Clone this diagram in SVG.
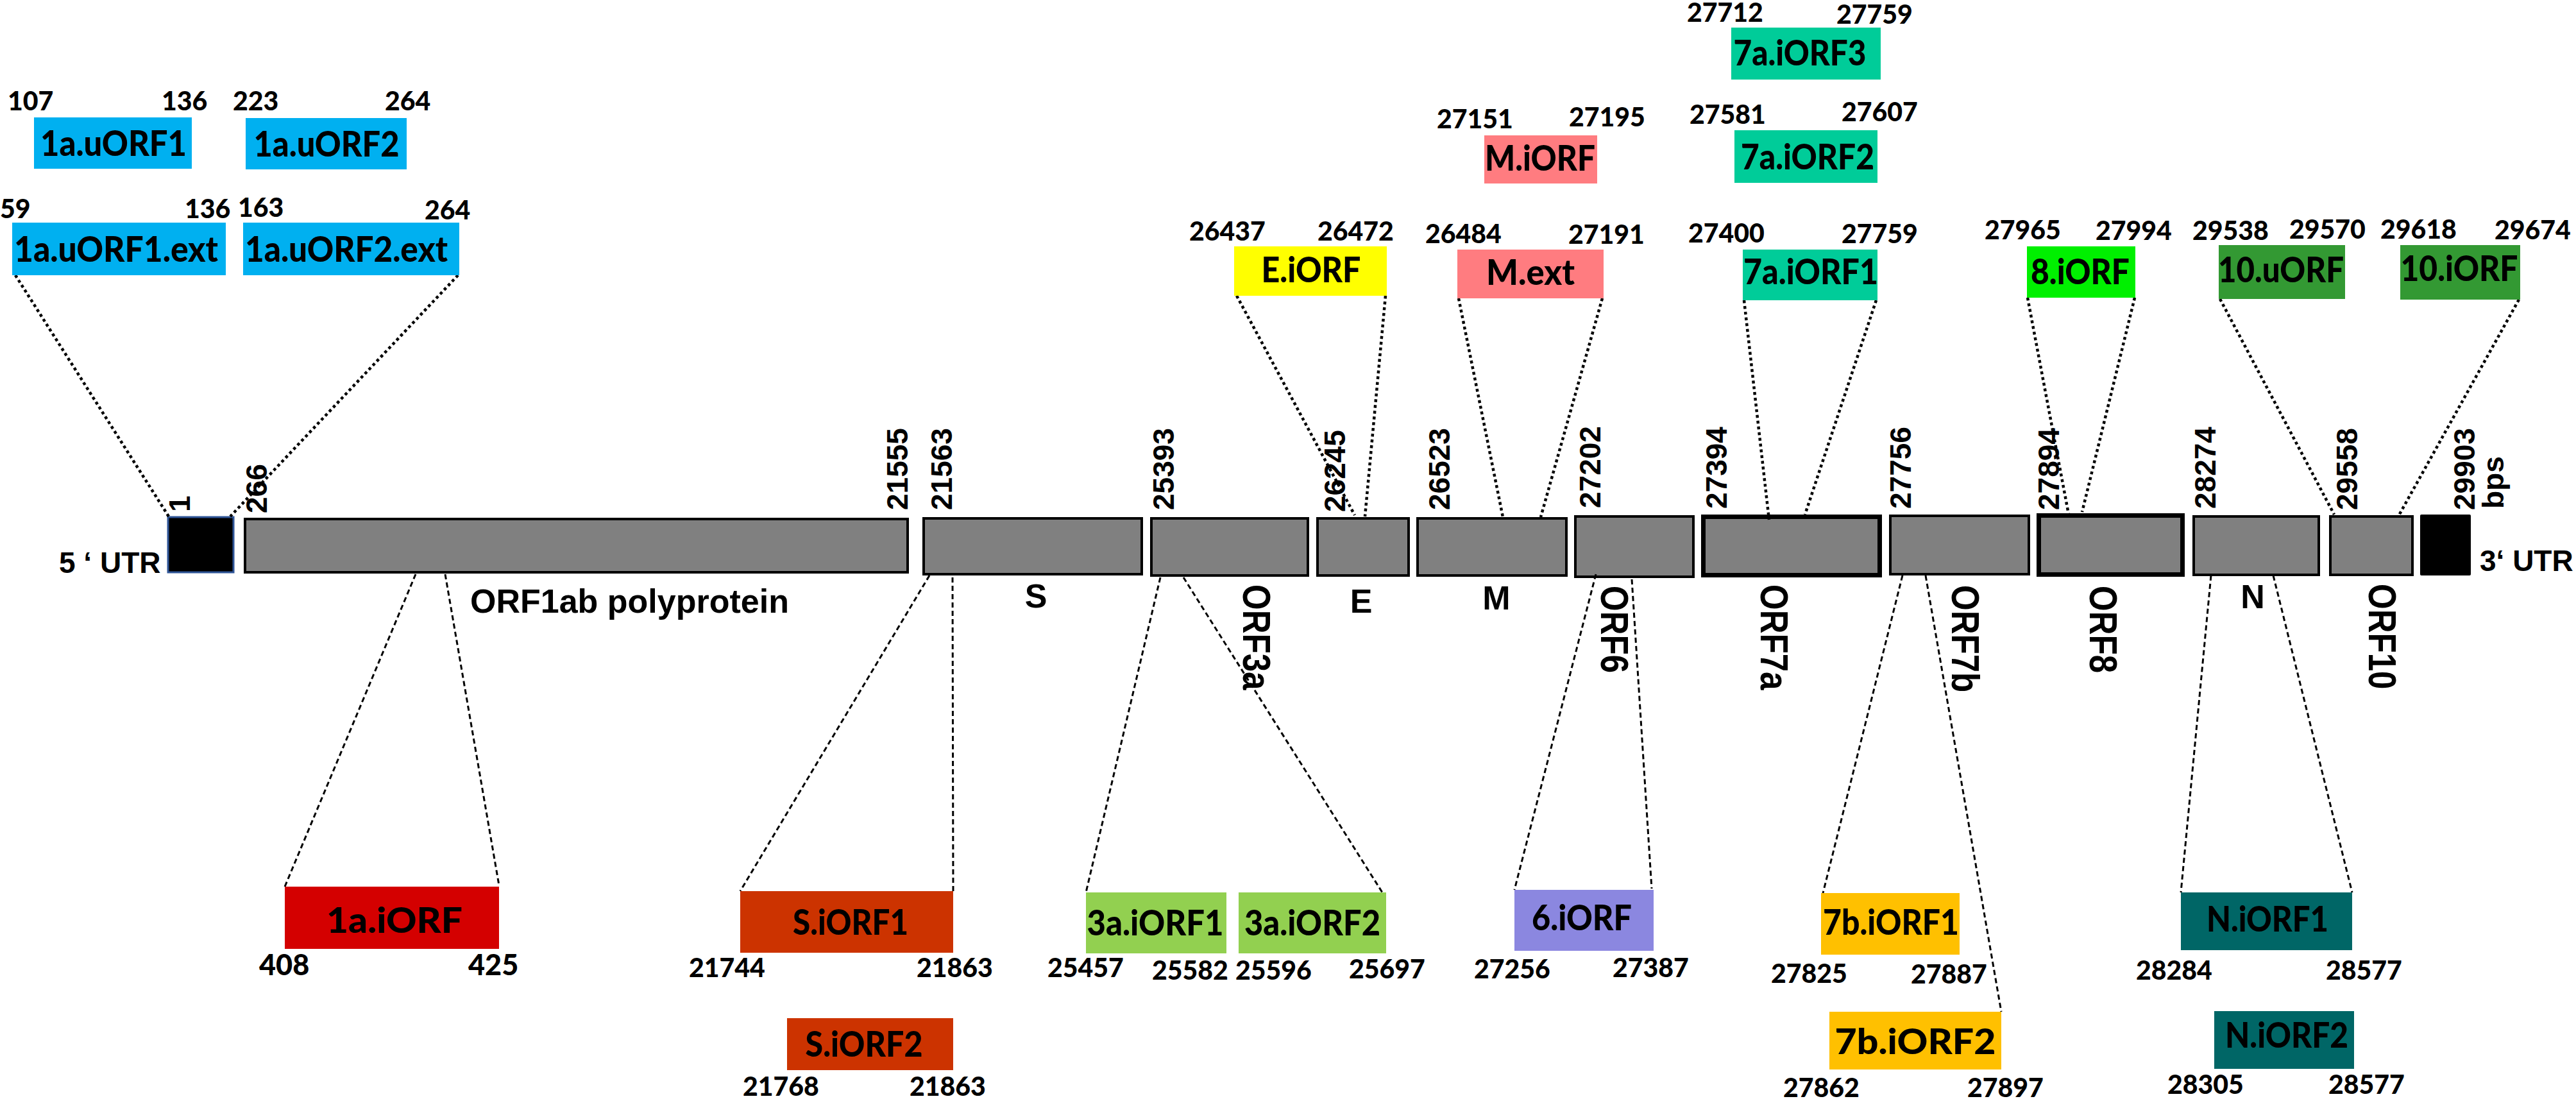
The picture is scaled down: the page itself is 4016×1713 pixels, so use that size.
<svg xmlns="http://www.w3.org/2000/svg" width="4016" height="1713" viewBox="0 0 4016 1713">
<style>
.lbl{font-family:Lato,"Open Sans","Liberation Sans",sans-serif;font-weight:900;font-size:56px;fill:#000;text-anchor:middle}
.num{font-family:Lato,"Open Sans","Liberation Sans",sans-serif;font-weight:900;font-size:41px;fill:#000}
.big{font-size:45px}
.gen{fill:#808080;stroke:#000;stroke-width:4}
.thick{stroke-width:7}
.ax{font-family:"Liberation Sans",Arial,sans-serif;font-weight:700;fill:#000}
.vn{font-size:46px}
.vl{font-size:51px}
.hl{font-size:52px;text-anchor:middle}
.dot{stroke:#000;stroke-width:4.5;stroke-dasharray:4.5 4.5;fill:none}
.dash{stroke:#000;stroke-width:3;stroke-dasharray:8 5;fill:none}
.blue{fill:#00B0F0}.yel{fill:#FFFF00}.pink{fill:#FF7C80}.teal{fill:#00CC99}.lime{fill:#00F000}.dg{fill:#339933}
.red{fill:#D40000}.rust{fill:#CC3300}.lg{fill:#92D050}.pur{fill:#8B87E0}.org{fill:#FFC000}.dt{fill:#006666}
</style>
<rect width="4016" height="1713" fill="#fff"/>

<!-- genome bar -->
<g id="utr5">
<rect x="262" y="806" width="102" height="86" fill="#000" stroke="#2F5597" stroke-width="3"/>
<text class="ax" font-size="46" x="92" y="893">5 ‘ UTR</text>
<text class="ax vn" x="296" y="798" transform="rotate(-90 296 798)">1</text>
<text class="ax vn" x="416" y="800" transform="rotate(-90 416 800)">266</text>
</g>
<g id="orf1ab">
<rect class="gen" x="382" y="809" width="1033" height="83"/>
<text class="ax" font-size="52" x="733" y="955">ORF1ab polyprotein</text>
<text class="ax vn" x="1415" y="795" transform="rotate(-90 1415 795)">21555</text>
</g>
<g id="S">
<rect class="gen" x="1440" y="808" width="340" height="87"/>
<text class="ax hl" x="1615" y="947">S</text>
<text class="ax vn" x="1484" y="795" transform="rotate(-90 1484 795)">21563</text>
</g>
<g id="ORF3a">
<rect class="gen" x="1795" y="808" width="244" height="89"/>
<text class="ax vl" transform="translate(1938 911) rotate(90) scale(1 1.2)">ORF3a</text>
<text class="ax vn" x="1830" y="795" transform="rotate(-90 1830 795)">25393</text>
</g>
<g id="E">
<rect class="gen" x="2054" y="808" width="142" height="89"/>
<text class="ax hl" x="2122" y="955">E</text>
<text class="ax vn" x="2097" y="798" transform="rotate(-90 2097 798)">26245</text>
</g>
<g id="M">
<rect class="gen" x="2210" y="808" width="232" height="89"/>
<text class="ax hl" x="2333" y="950">M</text>
<text class="ax vn" x="2260" y="795" transform="rotate(-90 2260 795)">26523</text>
</g>
<g id="ORF6">
<rect class="gen" x="2456" y="805" width="184" height="94"/>
<text class="ax vl" transform="translate(2496 913) rotate(90) scale(1 1.2)">ORF6</text>
<text class="ax vn" x="2495" y="792" transform="rotate(-90 2495 792)">27202</text>
</g>
<g id="ORF7a">
<rect class="gen thick" x="2655.5" y="805.5" width="275" height="91"/>
<text class="ax vl" transform="translate(2745 911) rotate(90) scale(1 1.2)">ORF7a</text>
<text class="ax vn" x="2692" y="793" transform="rotate(-90 2692 793)">27394</text>
</g>
<g id="ORF7b">
<rect class="gen" x="2947" y="804" width="216" height="91"/>
<text class="ax vl" transform="translate(3043 912) rotate(90) scale(1 1.2)">ORF7b</text>
<text class="ax vn" x="2979" y="793" transform="rotate(-90 2979 793)">27756</text>
</g>
<g id="ORF8">
<rect class="gen thick" x="3178.5" y="803.5" width="224" height="92"/>
<text class="ax vl" transform="translate(3258 913) rotate(90) scale(1 1.2)">ORF8</text>
<text class="ax vn" x="3210" y="795" transform="rotate(-90 3210 795)">27894</text>
</g>
<g id="N">
<rect class="gen" x="3420" y="805" width="195" height="91"/>
<text class="ax hl" x="3512" y="948">N</text>
<text class="ax vn" x="3454" y="793" transform="rotate(-90 3454 793)">28274</text>
</g>
<g id="ORF10">
<rect class="gen" x="3633" y="805" width="128" height="91"/>
<text class="ax vl" transform="translate(3693 910) rotate(90) scale(1 1.2)">ORF10</text>
<text class="ax vn" x="3675" y="795" transform="rotate(-90 3675 795)">29558</text>
</g>
<g id="utr3">
<rect x="3773" y="802" width="79" height="95" rx="2" fill="#000"/>
<text class="ax" font-size="46" x="3866" y="890">3‘ UTR</text>
<text class="ax vn" x="3858" y="795" transform="rotate(-90 3858 795)">29903</text>
<text class="ax vn" x="3903" y="793" transform="rotate(-90 3903 793)">bps</text>
</g>

<!-- connectors -->
<g id="connectors">
<line class="dot" x1="24" y1="429" x2="263" y2="805"/>
<line class="dot" x1="714" y1="429" x2="359" y2="805"/>
<line class="dot" x1="1928" y1="461" x2="2112" y2="803"/>
<line class="dot" x1="2160" y1="461" x2="2128" y2="805"/>
<line class="dot" x1="2274" y1="465" x2="2343" y2="806"/>
<line class="dot" x1="2498" y1="465" x2="2402" y2="806"/>
<line class="dot" x1="2719" y1="468" x2="2758" y2="810"/>
<line class="dot" x1="2925" y1="468" x2="2814" y2="802"/>
<line class="dot" x1="3161" y1="464" x2="3226" y2="807"/>
<line class="dot" x1="3328" y1="464" x2="3246" y2="798"/>
<line class="dot" x1="3461" y1="466" x2="3639" y2="802"/>
<line class="dot" x1="3927" y1="467" x2="3740" y2="803"/>
<line class="dash" x1="648" y1="895" x2="444" y2="1382"/>
<line class="dash" x1="694" y1="895" x2="778" y2="1380"/>
<line class="dash" x1="1449" y1="897" x2="1154" y2="1389"/>
<line class="dash" x1="1485" y1="900" x2="1486" y2="1389"/>
<line class="dash" x1="1809" y1="900" x2="1693" y2="1391"/>
<line class="dash" x1="1845" y1="900" x2="2155" y2="1391"/>
<line class="dash" x1="2488" y1="895" x2="2361" y2="1387"/>
<line class="dash" x1="2544" y1="903" x2="2575" y2="1385"/>
<line class="dash" x1="2966" y1="897" x2="2842" y2="1392"/>
<line class="dash" x1="3002" y1="897" x2="3120" y2="1577"/>
<line class="dash" x1="3447" y1="897" x2="3400" y2="1391"/>
<line class="dash" x1="3544" y1="897" x2="3667" y2="1391"/>
</g>

<!-- top nodes -->
<g id="n_1a_uORF1">
<rect class="blue" x="53" y="183" width="246" height="80"/>
<text class="lbl" x="177" y="243" textLength="228" lengthAdjust="spacingAndGlyphs">1a.uORF1</text>
<text class="num" x="12" y="172">107</text><text class="num" x="252" y="172">136</text>
</g>
<g id="n_1a_uORF2">
<rect class="blue" x="383" y="184" width="251" height="80"/>
<text class="lbl" x="509" y="244" textLength="227" lengthAdjust="spacingAndGlyphs">1a.uORF2</text>
<text class="num" x="363" y="172">223</text><text class="num" x="600" y="172">264</text>
</g>
<g id="n_1a_uORF1_ext">
<rect class="blue" x="19" y="347" width="333" height="82"/>
<text class="lbl" x="181" y="408" textLength="318" lengthAdjust="spacingAndGlyphs">1a.uORF1.ext</text>
<text class="num" x="0" y="340">59</text><text class="num" x="288" y="340">136</text>
</g>
<g id="n_1a_uORF2_ext">
<rect class="blue" x="379" y="347" width="337" height="82"/>
<text class="lbl" x="540" y="408" textLength="316" lengthAdjust="spacingAndGlyphs">1a.uORF2.ext</text>
<text class="num" x="371" y="338">163</text><text class="num" x="662" y="342">264</text>
</g>
<g id="n_E_iORF">
<rect class="yel" x="1924" y="384" width="238" height="77"/>
<text class="lbl" x="2044" y="440" textLength="155" lengthAdjust="spacingAndGlyphs">E.iORF</text>
<text class="num" x="1854" y="375">26437</text><text class="num" x="2054" y="375">26472</text>
</g>
<g id="n_M_ext">
<rect class="pink" x="2272" y="389" width="228" height="76"/>
<text class="lbl" x="2386" y="444" textLength="138" lengthAdjust="spacingAndGlyphs">M.ext</text>
<text class="num" x="2222" y="379">26484</text><text class="num" x="2445" y="380">27191</text>
</g>
<g id="n_7a_iORF1">
<rect class="teal" x="2717" y="389" width="210" height="79"/>
<text class="lbl" x="2823" y="443" textLength="210" lengthAdjust="spacingAndGlyphs">7a.iORF1</text>
<text class="num" x="2632" y="378">27400</text><text class="num" x="2871" y="379">27759</text>
</g>
<g id="n_M_iORF">
<rect class="pink" x="2314" y="211" width="176" height="75"/>
<text class="lbl" x="2401" y="266" textLength="172" lengthAdjust="spacingAndGlyphs">M.iORF</text>
<text class="num" x="2240" y="200">27151</text><text class="num" x="2446" y="197">27195</text>
</g>
<g id="n_7a_iORF2">
<rect class="teal" x="2704" y="203" width="223" height="82"/>
<text class="lbl" x="2818" y="264" textLength="208" lengthAdjust="spacingAndGlyphs">7a.iORF2</text>
<text class="num" x="2634" y="193">27581</text><text class="num" x="2871" y="189">27607</text>
</g>
<g id="n_7a_iORF3">
<rect class="teal" x="2699" y="43" width="233" height="81"/>
<text class="lbl" x="2806" y="102" textLength="207" lengthAdjust="spacingAndGlyphs">7a.iORF3</text>
<text class="num" x="2630" y="34">27712</text><text class="num" x="2863" y="37">27759</text>
</g>
<g id="n_8_iORF">
<rect class="lime" x="3160" y="384" width="169" height="80"/>
<text class="lbl" x="3243" y="443" textLength="154" lengthAdjust="spacingAndGlyphs">8.iORF</text>
<text class="num" x="3094" y="373">27965</text><text class="num" x="3267" y="374">27994</text>
</g>
<g id="n_10_uORF">
<rect class="dg" x="3459" y="382" width="197" height="84"/>
<text class="lbl" x="3556" y="440" textLength="196" lengthAdjust="spacingAndGlyphs">10.uORF</text>
<text class="num" x="3418" y="374">29538</text><text class="num" x="3569" y="372">29570</text>
</g>
<g id="n_10_iORF">
<rect class="dg" x="3742" y="382" width="187" height="85"/>
<text class="lbl" x="3834" y="438" textLength="183" lengthAdjust="spacingAndGlyphs">10.iORF</text>
<text class="num" x="3711" y="372">29618</text><text class="num" x="3889" y="373">29674</text>
</g>

<!-- bottom nodes -->
<g id="n_1a_iORF">
<rect class="red" x="444" y="1382" width="334" height="97"/>
<text class="lbl" x="615" y="1454" textLength="212" lengthAdjust="spacingAndGlyphs">1a.iORF</text>
<text class="num big" x="404" y="1520">408</text><text class="num big" x="730" y="1520">425</text>
</g>
<g id="n_S_iORF1">
<rect class="rust" x="1154" y="1389" width="332" height="96"/>
<text class="lbl" x="1326" y="1457" textLength="180" lengthAdjust="spacingAndGlyphs">S.iORF1</text>
<text class="num" x="1074" y="1523">21744</text><text class="num" x="1429" y="1523">21863</text>
</g>
<g id="n_S_iORF2">
<rect class="rust" x="1227" y="1587" width="259" height="81"/>
<text class="lbl" x="1347" y="1647" textLength="183" lengthAdjust="spacingAndGlyphs">S.iORF2</text>
<text class="num" x="1158" y="1708">21768</text><text class="num" x="1418" y="1708">21863</text>
</g>
<g id="n_3a_iORF1">
<rect class="lg" x="1693" y="1391" width="219" height="95"/>
<text class="lbl" x="1801" y="1458" textLength="213" lengthAdjust="spacingAndGlyphs">3a.iORF1</text>
<text class="num" x="1633" y="1523">25457</text><text class="num" x="1796" y="1527">25582</text>
</g>
<g id="n_3a_iORF2">
<rect class="lg" x="1931" y="1391" width="230" height="95"/>
<text class="lbl" x="2046" y="1458" textLength="212" lengthAdjust="spacingAndGlyphs">3a.iORF2</text>
<text class="num" x="1926" y="1527">25596</text><text class="num" x="2103" y="1525">25697</text>
</g>
<g id="n_6_iORF">
<rect class="pur" x="2361" y="1387" width="217" height="95"/>
<text class="lbl" x="2466" y="1450" textLength="156" lengthAdjust="spacingAndGlyphs">6.iORF</text>
<text class="num" x="2298" y="1525">27256</text><text class="num" x="2514" y="1523">27387</text>
</g>
<g id="n_7b_iORF1">
<rect class="org" x="2839" y="1392" width="216" height="96"/>
<text class="lbl" x="2948" y="1457" textLength="212" lengthAdjust="spacingAndGlyphs">7b.iORF1</text>
<text class="num" x="2761" y="1532">27825</text><text class="num" x="2979" y="1533">27887</text>
</g>
<g id="n_7b_iORF2">
<rect class="org" x="2852" y="1577" width="268" height="90"/>
<text class="lbl" x="2986" y="1643" textLength="251" lengthAdjust="spacingAndGlyphs">7b.iORF2</text>
<text class="num" x="2780" y="1710">27862</text><text class="num" x="3067" y="1710">27897</text>
</g>
<g id="n_N_iORF1">
<rect class="dt" x="3400" y="1391" width="267" height="90"/>
<text class="lbl" x="3535" y="1452" textLength="190" lengthAdjust="spacingAndGlyphs">N.iORF1</text>
<text class="num" x="3330" y="1527">28284</text><text class="num" x="3626" y="1527">28577</text>
</g>
<g id="n_N_iORF2">
<rect class="dt" x="3452" y="1576" width="218" height="90"/>
<text class="lbl" x="3565" y="1633" textLength="192" lengthAdjust="spacingAndGlyphs">N.iORF2</text>
<text class="num" x="3379" y="1705">28305</text><text class="num" x="3630" y="1705">28577</text>
</g>
</svg>
